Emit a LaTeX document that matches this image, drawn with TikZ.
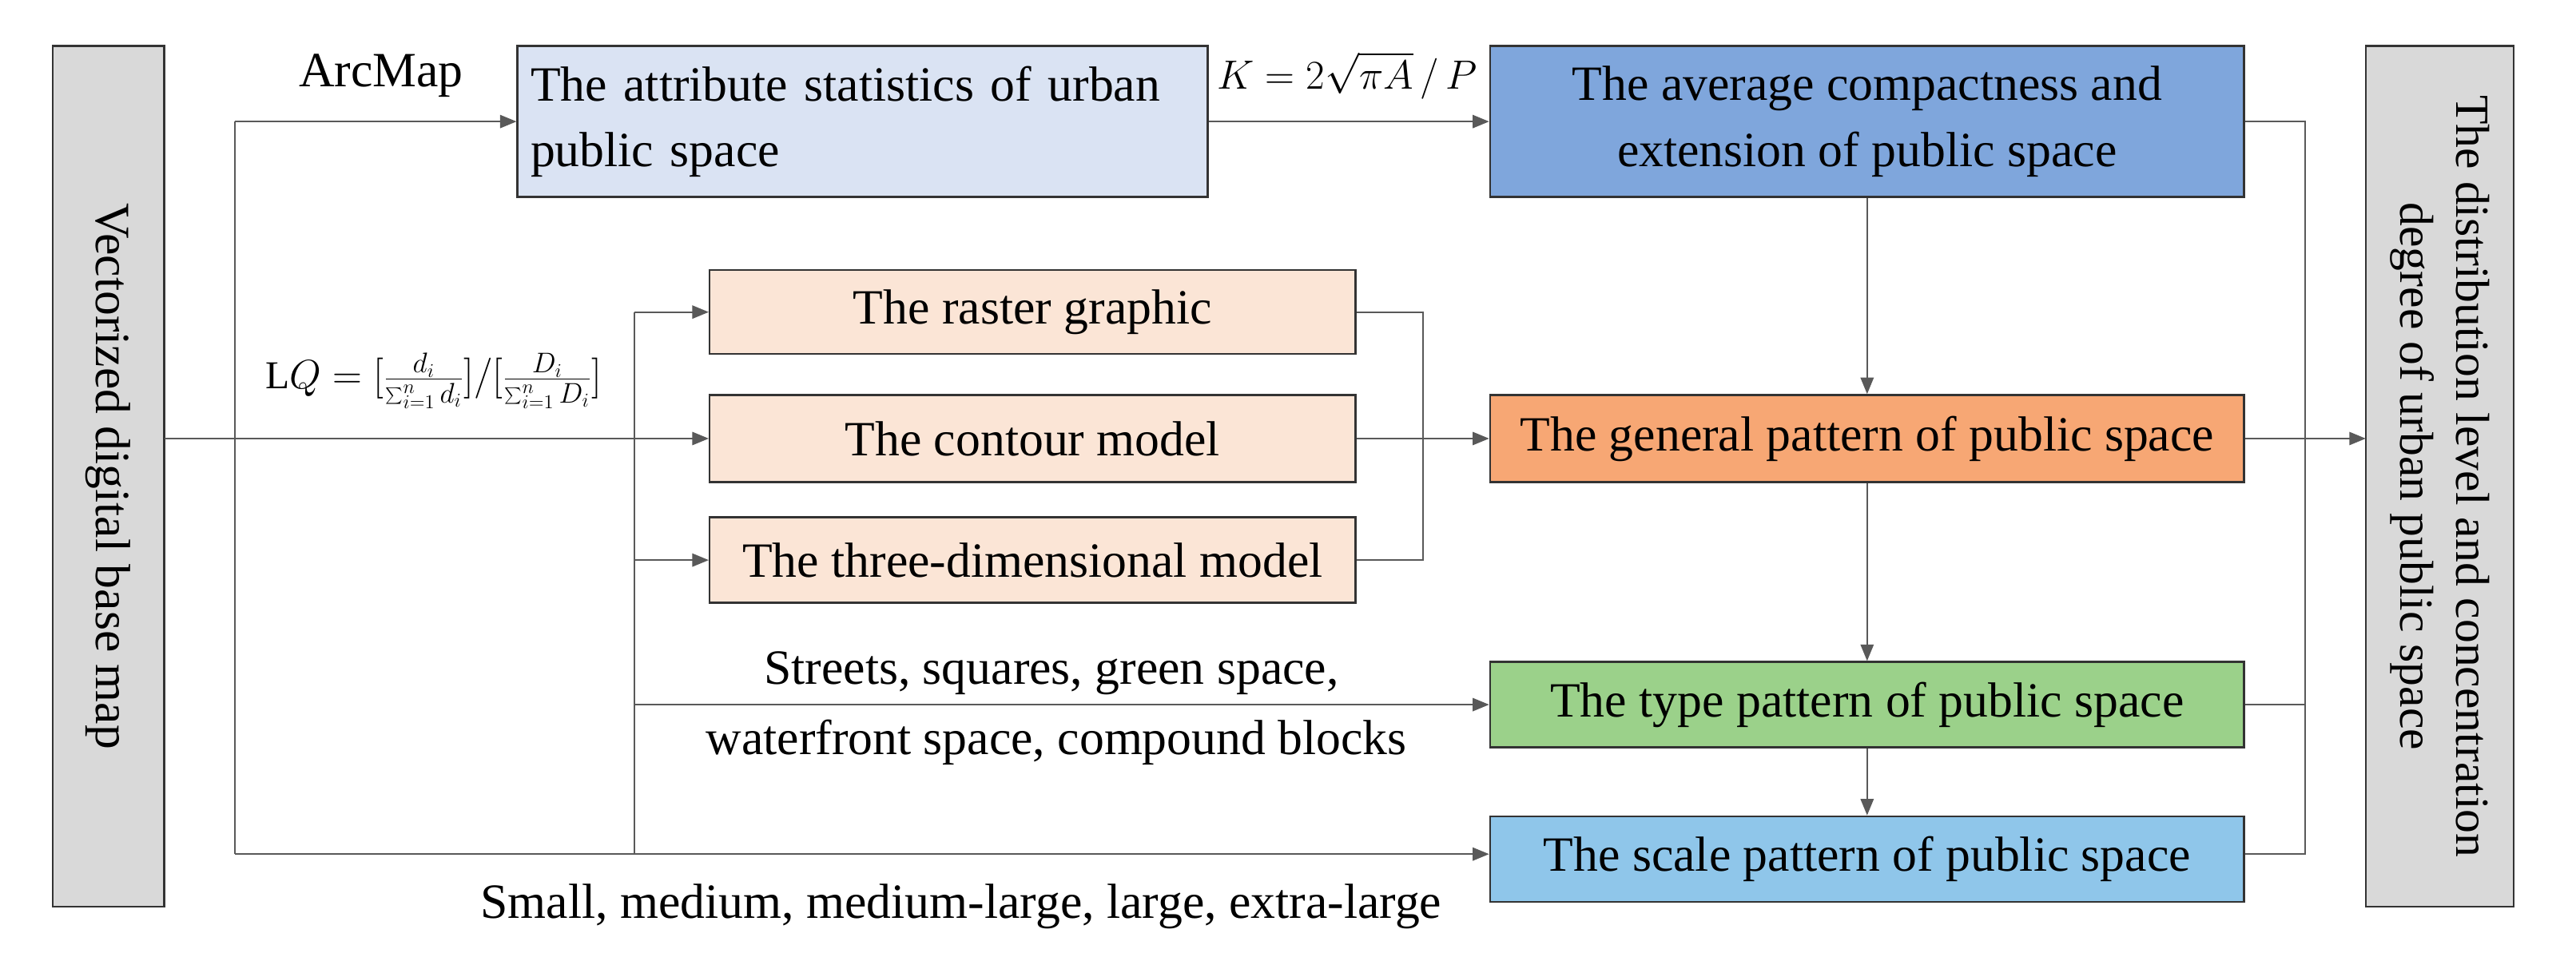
\documentclass[tikz,border=0pt]{standalone}
\usepackage{fontspec}
\setmainfont{Liberation Serif}
\usetikzlibrary{arrows.meta}
\begin{document}
\begin{tikzpicture}[x=1pt,y=-1pt,
  box/.style={draw=black!80,line width=1.2pt,inner sep=0pt,font=\fontsize{30}{40}\selectfont},
  ln/.style={draw=black!65,line width=0.9pt},
  ar/.style={ln,-{Triangle[length=10pt,width=8pt]}},
  lab/.style={font=\fontsize{30}{36}\selectfont,inner sep=1pt}]
\useasboundingbox (0,0) rectangle (1568,580);
\definecolor{cAttr}{HTML}{DAE3F3}
\definecolor{cAvg}{HTML}{7FA6DC}
\definecolor{cPeach}{HTML}{FBE5D6}
\definecolor{cGen}{HTML}{F7A774}
\definecolor{cType}{HTML}{9BD18A}
\definecolor{cScale}{HTML}{8FC6EA}
\definecolor{cGray}{HTML}{D9D9D9}
% side boxes
\draw[box,fill=cGray] (32,28) rectangle (100,552);
\node[rotate=-90,font=\fontsize{30}{36}\selectfont] (vec) at (66,290) {Vectorized digital base map};
\coordinate (vecR) at (100,267);
\draw[box,fill=cGray] (1440,28) rectangle (1530,552);
\node[rotate=-90,align=center,font=\fontsize{29}{34}\selectfont] (res) at (1485,290) {The distribution level and concentration\\degree of urban public space};
\coordinate (resL) at (1440,267);
% boxes
\node[box,fill=cAttr,minimum width=420pt,minimum height=92pt,align=left,text width=404pt] (attr) at (525,74) {The attribute statistics of urban\\public space};
\node[box,fill=cAvg,minimum width=459pt,minimum height=92pt,align=center] (avg) at (1136.5,74) {The average compactness and\\extension of public space};
\node[box,fill=cPeach,minimum width=393pt,minimum height=51pt] (ras) at (628.5,190) {The raster graphic};
\node[box,fill=cPeach,minimum width=393pt,minimum height=53pt] (con) at (628.5,267) {The contour model};
\node[box,fill=cPeach,minimum width=393pt,minimum height=52pt] (thr) at (628.5,341) {The three-dimensional model};
\node[box,fill=cGen,minimum width=459pt,minimum height=53pt] (gen) at (1136.5,267) {The general pattern of public space};
\node[box,fill=cType,minimum width=459pt,minimum height=52pt] (typ) at (1136.5,429) {The type pattern of public space};
\node[box,fill=cScale,minimum width=459pt,minimum height=52pt] (sca) at (1136.5,523) {The scale pattern of public space};
% junctions
\coordinate (jA) at (143,74);
\coordinate (jB) at (143,520);
\coordinate (jC) at (386,190);
\coordinate (jD) at (386,520);
\coordinate (jE) at (386,341);
\coordinate (jF) at (386,429);
\coordinate (jG) at (866,190);
\coordinate (jH) at (866,341);
\coordinate (jI) at (1403,74);
\coordinate (jJ) at (1403,520);
% left connectors
\draw[ar] (vecR) -- (con.west);
\draw[ln] (jA) -- (jB);
\draw[ar] (jA) -- (attr.west);
\draw[ar] (jB) -- (sca.west |- jB);
\draw[ln] (jC) -- (jD);
\draw[ar] (jC) -- (ras.west);
\draw[ar] (jE) -- (thr.west);
\draw[ar] (jF) -- (typ.west);
% middle
\draw[ar] (attr.east) -- (avg.west);
\draw[ln] (ras.east) -- (jG) -- (jH) -- (thr.east);
\draw[ar] (con.east) -- (gen.west);
\draw[ar] (avg.south) -- (gen.north);
\draw[ar] (gen.south) -- (typ.north);
\draw[ar] (typ.south) -- (sca.north);
% right
\draw[ln] (avg.east) -- (jI) -- (jJ) -- (sca.east |- jJ);
\draw[ln] (typ.east) -- (typ.east -| jI);
\draw[ar] (gen.east) -- (resL);
% labels
\node[lab] (l1) at (232,46) {ArcMap};
\node[lab] (l2) at (820,46) {$K=2\sqrt{\pi A}\,/\,P$};
\node[lab,font=\fontsize{24}{28}\selectfont] (l3) at (264,232) {$\mathrm{L}Q=[\frac{d_i}{\sum_{i=1}^{n}d_i}]/[\frac{D_i}{\sum_{i=1}^{n}D_i}]$};
\node[lab] (l4) at (640,410) {Streets, squares, green space,};
\node[lab] (l5) at (643,452) {waterfront space, compound blocks};
\node[lab] (l6) at (585,552) {Small, medium, medium-large, large, extra-large};
\end{tikzpicture}
\end{document}
